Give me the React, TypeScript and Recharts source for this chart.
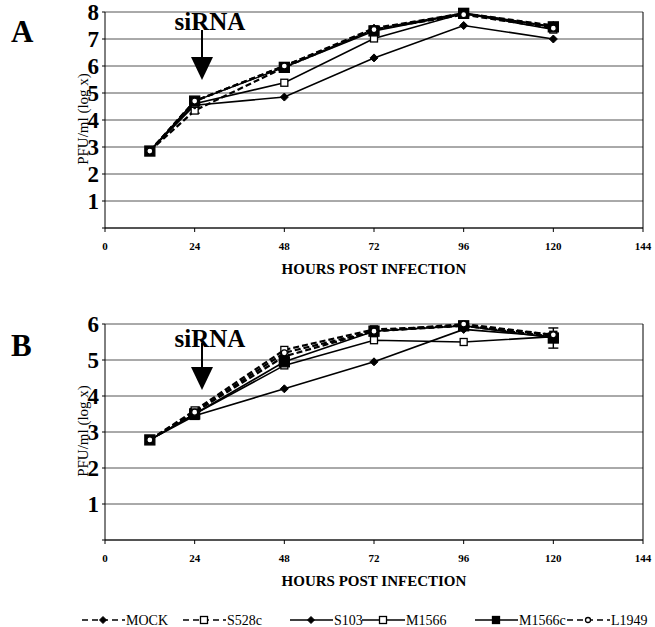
import React from 'react';
import { LineChart, Line, XAxis, YAxis, CartesianGrid, ReferenceLine, ErrorBar } from 'recharts';

const HOURS = [12, 24, 48, 72, 96, 120];
const X_TICKS = [0, 24, 48, 72, 96, 120, 144];
const A_TICKS = [0, 1, 2, 3, 4, 5, 6, 7, 8];
const B_TICKS = [0, 1, 2, 3, 4, 5, 6];

const SERIES_NAMES = ['MOCK', 'S528c', 'S103', 'M1566', 'M1566c', 'L1949'];

// Panel A values (log PFU/ml)
const A_MOCK = [2.85, 4.7, 6.0, 7.4, 7.95, 7.5];
const A_S528C = [2.85, 4.35, 5.95, 7.35, 7.95, 7.45];
const A_S103 = [2.85, 4.55, 4.85, 6.3, 7.5, 7.0];
const A_M1566 = [2.85, 4.6, 5.38, 7.02, 7.95, 7.35];
const A_M1566C = [2.85, 4.7, 5.95, 7.3, 7.95, 7.45];
const A_L1949 = [2.85, 4.7, 6.0, 7.35, 7.9, 7.4];

// Panel B values (log PFU/ml)
const B_MOCK = [2.78, 3.55, 5.1, 5.8, 5.95, 5.65];
const B_S528C = [2.78, 3.6, 5.28, 5.85, 5.95, 5.7];
const B_S103 = [2.78, 3.45, 4.2, 4.95, 5.85, 5.65];
const B_M1566 = [2.78, 3.5, 4.85, 5.55, 5.5, 5.65];
const B_M1566C = [2.78, 3.5, 4.95, 5.8, 5.95, 5.61];
const B_L1949 = [2.78, 3.55, 5.2, 5.8, 6.0, 5.7];
const B_M1566C_ERR = [0, 0.15, 0, 0, 0, 0.28];
const A_S528C_ERR = [0, 0.1, 0, 0, 0, 0];

const STYLE: Record<string, { dash: boolean; shape: string; filled: boolean; size: number }> = {
  MOCK: { dash: true, shape: 'diamond', filled: true, size: 4 },
  S528c: { dash: true, shape: 'square', filled: false, size: 3.5 },
  S103: { dash: false, shape: 'diamond', filled: true, size: 4 },
  M1566: { dash: false, shape: 'square', filled: false, size: 3.5 },
  M1566c: { dash: false, shape: 'square', filled: true, size: 5 },
  L1949: { dash: true, shape: 'circle', filled: false, size: 3 },
};

const buildRows = (cols: number[][], errs: Record<string, number[]>) =>
  HOURS.map((h, i) => {
    const row: any = { h };
    SERIES_NAMES.forEach((n, j) => {
      row[n] = cols[j][i];
    });
    Object.keys(errs).forEach((k) => {
      row[k + '_err'] = errs[k][i];
    });
    return row;
  });

const DATA_A = buildRows([A_MOCK, A_S528C, A_S103, A_M1566, A_M1566C, A_L1949], { S528c: A_S528C_ERR });
const DATA_B = buildRows([B_MOCK, B_S528C, B_S103, B_M1566, B_M1566C, B_L1949], { M1566c: B_M1566C_ERR });

const FONT = "'Liberation Serif', 'Times New Roman', serif";

function Marker({ cx, cy, shape, filled, size }: any) {
  const fill = filled ? '#000' : '#fff';
  if (shape === 'diamond') {
    return (
      <polygon
        points={`${cx},${cy - size} ${cx + size},${cy} ${cx},${cy + size} ${cx - size},${cy}`}
        fill={fill}
        stroke="#000"
        strokeWidth={1}
      />
    );
  }
  if (shape === 'square') {
    return <rect x={cx - size} y={cy - size} width={size * 2} height={size * 2} fill={fill} stroke="#000" strokeWidth={1.3} />;
  }
  return <circle cx={cx} cy={cy} r={size} fill={fill} stroke="#000" strokeWidth={1.3} />;
}

const makeDot = (name: string) => (props: any) => {
  const s = STYLE[name];
  const { cx, cy, index } = props;
  if (cx == null || cy == null) return <g key={`${name}-${index}`} />;
  return (
    <g key={`${name}-${index}`}>
      <Marker cx={cx} cy={cy} shape={s.shape} filled={s.filled} size={s.size} />
    </g>
  );
};

const XTick = (props: any) => {
  const { x, y, payload } = props;
  return (
    <text x={x} y={y + 16} textAnchor="middle" fontFamily={FONT} fontSize={11} fontWeight="bold" fill="#000">
      {payload.value}
    </text>
  );
};

const YTick = (props: any) => {
  const { x, y, payload } = props;
  if (payload.value === 0) return <g />;
  return (
    <text x={x - 1} y={y + 8} textAnchor="end" fontFamily={FONT} fontSize={23} fontWeight="bold" fill="#000">
      {payload.value}
    </text>
  );
};

const YLabel = (props: any) => {
  const { viewBox } = props;
  const x = viewBox.x + 83;
  const y = viewBox.y + viewBox.height / 2 - 1;
  return (
    <text x={x} y={y} transform={`rotate(-90 ${x} ${y})`} textAnchor="middle" dominantBaseline="central" fontFamily={FONT} fontSize={15} fill="#000">
      PFU/ml (log x)
    </text>
  );
};

const XLabel = (props: any) => {
  const { viewBox } = props;
  return (
    <text x={viewBox.x + viewBox.width / 2} y={viewBox.y + 46} textAnchor="middle" fontFamily={FONT} fontSize={15} fontWeight="bold" fill="#000">
      HOURS POST INFECTION
    </text>
  );
};

function Panel({ data, ticks, max, errKey }: any) {
  return (
    <LineChart width={655} height={280} data={data} margin={{ top: 12, right: 12, bottom: 22, left: 0 }}>
      <CartesianGrid vertical={false} stroke="#555" strokeWidth={1} />
      <XAxis
        dataKey="h"
        type="number"
        domain={[0, 144]}
        ticks={X_TICKS}
        height={30}
        stroke="#000"
        tickSize={4}
        tickLine={{ stroke: '#000' }}
        tick={<XTick />}
        label={<XLabel />}
      />
      <YAxis
        type="number"
        domain={[0, max]}
        ticks={ticks}
        width={105}
        stroke="#000"
        tickSize={3}
        tickMargin={2}
        interval={0}
        tick={<YTick />}
        label={<YLabel />}
      />
      <ReferenceLine x={144} stroke="#000" strokeWidth={1} />
      {SERIES_NAMES.map((n) => (
        <Line
          key={n}
          dataKey={n}
          type="linear"
          stroke="#000"
          strokeWidth={STYLE[n].dash ? 2.2 : 1.6}
          strokeDasharray={STYLE[n].dash ? '6 3' : undefined}
          dot={makeDot(n)}
          activeDot={false}
          isAnimationActive={false}
        >
          {errKey === n ? <ErrorBar dataKey={n + '_err'} width={5} stroke="#000" strokeWidth={1.4} direction="y" /> : null}
        </Line>
      ))}
    </LineChart>
  );
}

function Arrow({ x, y1, y2, label, ly }: any) {
  return (
    <g>
      <text x={x + 8} y={ly} textAnchor="middle" fontFamily={FONT} fontSize={25} fontWeight="bold" fill="#000">
        {label}
      </text>
      <line x1={x} y1={y1} x2={x} y2={y2 - 20} stroke="#000" strokeWidth={2} />
      <polygon points={`${x - 11},${y2 - 23} ${x + 11},${y2 - 23} ${x},${y2}`} fill="#000" />
    </g>
  );
}

function Legend() {
  const xs = [82, 183, 290, 362, 475, 567];
  const y = 620;
  return (
    <g>
      {SERIES_NAMES.map((n, i) => {
        const s = STYLE[n];
        const x0 = xs[i];
        return (
          <g key={n}>
            <line x1={x0} y1={y} x2={x0 + 43} y2={y} stroke="#000" strokeWidth={1.6} strokeDasharray={s.dash ? '6 4' : undefined} />
            <Marker cx={x0 + 21} cy={y} shape={s.shape} filled={s.filled} size={s.shape === 'circle' ? 2.5 : 3.5} />
            <text x={x0 + 44} y={y + 5} fontFamily={FONT} fontSize={14} fill="#000">
              {n}
            </text>
          </g>
        );
      })}
    </g>
  );
}

export default function App() {
  return (
    <div style={{ position: 'absolute', left: 0, top: 0, width: 655, height: 627, background: '#fff', overflow: 'hidden' }}>
      <div style={{ position: 'absolute', left: 0, top: 0 }}>
        <Panel data={DATA_A} ticks={A_TICKS} max={8} errKey="S528c" />
      </div>
      <div style={{ position: 'absolute', left: 0, top: 312 }}>
        <Panel data={DATA_B} ticks={B_TICKS} max={6} errKey="M1566c" />
      </div>
      <svg width={655} height={627} style={{ position: 'absolute', left: 0, top: 0, pointerEvents: 'none' }}>
        <text x={11} y={42} fontFamily={FONT} fontSize={31} fontWeight="bold" fill="#000">A</text>
        <text x={11} y={356} fontFamily={FONT} fontSize={31} fontWeight="bold" fill="#000">B</text>
        <Arrow x={202} y1={30} y2={80} label="siRNA" ly={30} />
        <Arrow x={202} y1={343} y2={390} label="siRNA" ly={347} />
        <Legend />
      </svg>
    </div>
  );
}
